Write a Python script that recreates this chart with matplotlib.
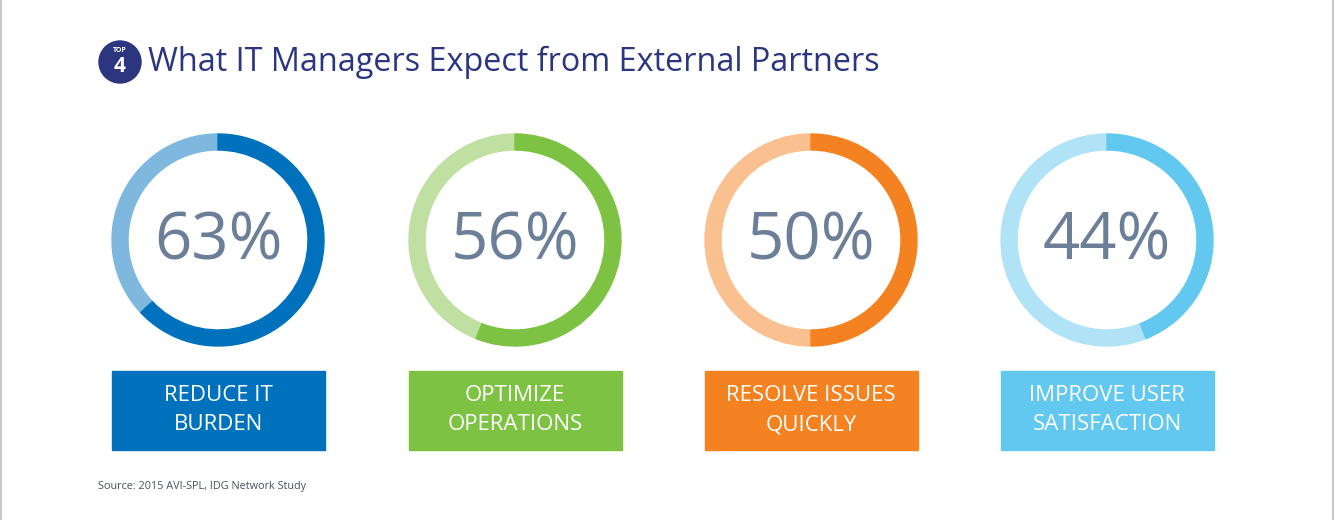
import matplotlib
matplotlib.use("Agg")
import matplotlib.pyplot as plt
from matplotlib.patches import Wedge, Circle, Rectangle

values = [63, 56, 50, 44]
labels = ["REDUCE IT\nBURDEN", "OPTIMIZE\nOPERATIONS", "RESOLVE ISSUES\nQUICKLY", "IMPROVE USER\nSATISFACTION"]
dark = ["#0071bc", "#7dc242", "#f58220", "#62c8ef"]
light = ["#7fb8de", "#bfe0a0", "#fac08f", "#b1e3f7"]

plt.rcParams['font.family'] = ['Open Sans', 'DejaVu Sans']
fig = plt.figure(figsize=(13.36, 5.2), dpi=100)
ax = fig.add_axes([0, 0, 1, 1])
ax.set_xlim(0, 1336)
ax.set_ylim(520, 0)
ax.axis('off')

# frame lines
ax.plot([1, 1], [0, 520], color="#c8c8c8", lw=1.5)
ax.plot([1333, 1333], [0, 520], color="#c8c8c8", lw=1.5)

# title badge
ax.add_patch(Circle((120, 62), 21, color="#2b3580"))
ax.text(120, 51, "TOP", color="white", fontsize=5, fontweight="bold", ha="center", va="center")
ax.text(120, 67, "4", color="white", fontsize=15, fontweight="bold", ha="center", va="center")
ax.text(148, 62, "What IT Managers Expect from External Partners", color="#2b3580",
        fontsize=23.3, ha="left", va="center")

centers = [218, 515, 811, 1107]
for i, v in enumerate(values):
    cx, cy = centers[i], 240
    r, w = 106, 16
    # y axis inverted: angles go clockwise visually when increasing
    start = -90
    end = -90 + 360 * v / 100
    ax.add_patch(Wedge((cx, cy), r, end, start + 360, width=w, color=light[i]))
    ax.add_patch(Wedge((cx, cy), r, start, end, width=w, color=dark[i]))
    ax.text(cx, cy + 3, f"{v}%", color="#6b7f99", fontsize=47, ha="center", va="center")
    bx = cx - 106
    ax.add_patch(Rectangle((bx, 371), 213, 79, color=dark[i]))
    ax.text(cx, 410, labels[i], color="white", fontsize=16, ha="center", va="center",
            linespacing=1.55)

ax.text(98, 487, "Source: 2015 AVI-SPL, IDG Network Study", color="#4a5060",
        fontsize=7.8, ha="left", va="center")

fig.savefig("out.png", dpi=100, facecolor="white")
